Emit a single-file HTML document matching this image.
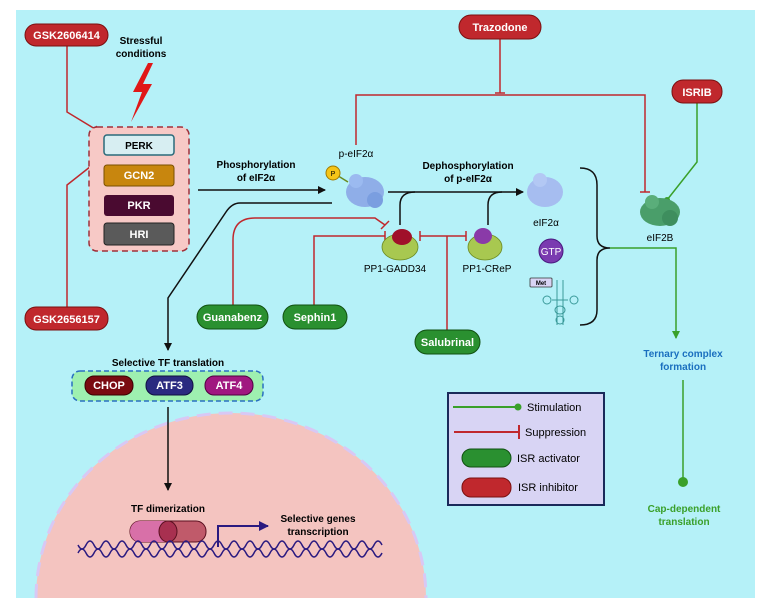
<!DOCTYPE html>
<html><head><meta charset="utf-8"><style>
html,body{margin:0;padding:0;background:#fff}
svg{display:block}
text{font-family:"Liberation Sans",sans-serif}
.b{font-weight:bold}
.w{fill:#fff;font-weight:bold;font-size:11px}
</style></head><body>
<svg width="760" height="603" viewBox="0 0 760 603" xmlns="http://www.w3.org/2000/svg">
<defs>
<marker id="ak" markerWidth="8" markerHeight="8" refX="7" refY="4" orient="auto" markerUnits="userSpaceOnUse"><path d="M0,0 L8,4 L0,8 z" fill="#111"/></marker>
<marker id="ag" markerWidth="8" markerHeight="8" refX="7" refY="4" orient="auto" markerUnits="userSpaceOnUse"><path d="M0,0 L8,4 L0,8 z" fill="#3aa02a"/></marker>
<marker id="an" markerWidth="10" markerHeight="10" refX="9" refY="5" orient="auto" markerUnits="userSpaceOnUse"><path d="M0,0 L10,5 L0,10 z" fill="#2a1a80"/></marker>
</defs>
<rect x="16" y="10" width="739" height="588" fill="#b5f1f8"/>
<!-- nucleus -->
<path d="M36,598 A195,185 0 0 1 426,598 Z" fill="#f4c4c0"/>
<path d="M36,598 A195,185 0 0 1 426,598" fill="none" stroke="#d8c8f4" stroke-width="3" stroke-dasharray="14,8"/>

<!-- suppression lines -->
<g stroke="#c0282d" stroke-width="1.5" fill="none">
<path d="M67,46 V112 L100,132"/><path d="M96,126 L102,136"/>
<path d="M67,307 V185 L100,159"/><path d="M96,155 L103,164"/>
<path d="M500,39 V93"/><path d="M495,93 H505"/>
<path d="M356,145 V95 H645 V192"/><path d="M640,192 H650"/>
<path d="M233,305 V240 Q233,218 255,218 H375 L385,225"/><path d="M381,229 L389,221"/>
<path d="M314,305 V236 H385"/><path d="M385,231 V241"/>
<path d="M447,330 V236"/><path d="M420,236 H466"/><path d="M420,231 V241"/><path d="M466,231 V241"/>
</g>
<!-- green lines -->
<g stroke="#3aa02a" stroke-width="1.5" fill="none">
<path d="M697,103 V162 L667,200"/>
<path d="M610,248 H676 V338" marker-end="url(#ag)"/>
<path d="M683,380 V480"/>
</g>
<circle cx="667" cy="200" r="3" fill="#3aa02a"/>
<circle cx="683" cy="482" r="5" fill="#3aa02a"/>

<!-- black arrows -->
<g stroke="#111" stroke-width="1.5" fill="none">
<path d="M198,190 H325" marker-end="url(#ak)"/>
<path d="M388,192 H523" marker-end="url(#ak)"/>
<path d="M400,225 V205 Q400,192 415,192"/>
<path d="M488,225 V205 Q488,192 502,192"/>
<path d="M332,203 H240 Q232,203 226,212 L168,298 V350" marker-end="url(#ak)"/>
<path d="M168,407 V490" marker-end="url(#ak)"/>
<path d="M580,168 Q597,168 597,185 V236 Q597,248 610,248 Q597,248 597,260 V310 Q597,325 580,325"/>
</g>

<!-- pills -->
<rect x="25" y="24" width="83" height="22" rx="11" fill="#c0282d" stroke="#7a1010"/><text x="66.5" y="39" text-anchor="middle" class="w">GSK2606414</text>
<rect x="25" y="307" width="83" height="23" rx="11" fill="#c0282d" stroke="#7a1010"/><text x="66.5" y="323" text-anchor="middle" class="w">GSK2656157</text>
<rect x="459" y="15" width="82" height="24" rx="12" fill="#c0282d" stroke="#7a1010"/><text x="500" y="31" text-anchor="middle" class="w">Trazodone</text>
<rect x="672" y="80" width="50" height="23" rx="11" fill="#c0282d" stroke="#7a1010"/><text x="697" y="96" text-anchor="middle" class="w">ISRIB</text>
<rect x="197" y="305" width="71" height="24" rx="12" fill="#2a9030" stroke="#105010"/><text x="232.5" y="321" text-anchor="middle" class="w">Guanabenz</text>
<rect x="283" y="305" width="64" height="24" rx="12" fill="#2a9030" stroke="#105010"/><text x="315" y="321" text-anchor="middle" class="w">Sephin1</text>
<rect x="415" y="330" width="65" height="24" rx="12" fill="#2a9030" stroke="#105010"/><text x="447.5" y="346" text-anchor="middle" class="w">Salubrinal</text>

<!-- stress -->
<text x="141" y="44" text-anchor="middle" class="b" font-size="10">Stressful</text>
<text x="141" y="57" text-anchor="middle" class="b" font-size="10">conditions</text>
<path d="M148,63 L133,92 L142,92 L131,122 L152,84 L143,84 L153,63 Z" fill="#e01818"/>

<!-- kinase box -->
<rect x="89" y="127" width="100" height="124" rx="8" fill="#f7c9c6" stroke="#a0303a" stroke-width="1.5" stroke-dasharray="6,4"/>
<rect x="104" y="135" width="70" height="20" rx="3" fill="#d7eef2" stroke="#2a6a7a" stroke-width="1.5"/><text x="139" y="149" text-anchor="middle" class="b" font-size="10">PERK</text>
<rect x="104" y="165" width="70" height="21" rx="3" fill="#c8860e" stroke="#7a5000"/><text x="139" y="179" text-anchor="middle" class="w" font-size="10">GCN2</text>
<rect x="104" y="195" width="70" height="21" rx="3" fill="#4a0a30"/><text x="139" y="209" text-anchor="middle" class="w" font-size="10">PKR</text>
<rect x="104" y="223" width="70" height="22" rx="3" fill="#5a5a5a" stroke="#222"/><text x="139" y="238" text-anchor="middle" class="w" font-size="10">HRI</text>

<text x="256" y="168" text-anchor="middle" class="b" font-size="10">Phosphorylation</text>
<text x="256" y="181" text-anchor="middle" class="b" font-size="10">of eIF2α</text>
<text x="468" y="169" text-anchor="middle" class="b" font-size="10">Dephosphorylation</text>
<text x="468" y="182" text-anchor="middle" class="b" font-size="10">of p-eIF2α</text>

<!-- p-eIF2a -->
<text x="356" y="157" text-anchor="middle" font-size="10">p-eIF2α</text>
<line x1="335" y1="174" x2="348" y2="182" stroke="#6a8a20" stroke-width="1.5"/>
<circle cx="333" cy="173" r="7" fill="#f5c518" stroke="#a07a00"/><text x="333" y="176" text-anchor="middle" font-size="7">P</text>
<ellipse cx="365" cy="192" rx="19" ry="15" fill="#8faee8"/><circle cx="356" cy="181" r="7" fill="#9bbaf0"/><circle cx="375" cy="200" r="8" fill="#7a9ee0"/>

<!-- eIF2a -->
<ellipse cx="545" cy="192" rx="18" ry="15" fill="#a6bdf0"/><circle cx="540" cy="180" r="7" fill="#b3c8f4"/>
<text x="546" y="226" text-anchor="middle" font-size="10">eIF2α</text>
<circle cx="551" cy="251" r="12" fill="#7a3bb0" stroke="#4a1a80"/><text x="551" y="255" text-anchor="middle" font-size="10" fill="#fff">GTP</text>
<rect x="530" y="278" width="22" height="9" rx="1" fill="#d8d4f4" stroke="#333" stroke-width="0.8"/><text x="541" y="285" text-anchor="middle" font-size="6" class="b">Met</text>
<g stroke="#3a9a9a" fill="none" stroke-width="1"><path d="M557,280 V325"/><path d="M563,280 V325"/><ellipse cx="560" cy="310" rx="5" ry="4"/><ellipse cx="560" cy="320" rx="4" ry="4"/><path d="M552,300 H568"/><circle cx="574" cy="300" r="4"/><circle cx="547" cy="300" r="4"/></g>

<!-- eIF2B -->
<ellipse cx="660" cy="212" rx="20" ry="14" fill="#4a9e6a"/><circle cx="652" cy="202" r="7" fill="#5aae7a"/><circle cx="670" cy="218" r="8" fill="#3e8e5e"/>
<text x="660" y="241" text-anchor="middle" font-size="10">eIF2B</text>

<!-- PP1 -->
<ellipse cx="400" cy="247" rx="18" ry="13" fill="#a8c850" stroke="#6a8a20" stroke-width="0.8"/><ellipse cx="402" cy="237" rx="10" ry="8" fill="#a0102a"/>
<text x="395" y="272" text-anchor="middle" font-size="10">PP1-GADD34</text>
<ellipse cx="485" cy="247" rx="17" ry="13" fill="#a8c850" stroke="#6a8a20" stroke-width="0.8"/><ellipse cx="483" cy="236" rx="9" ry="8" fill="#8a3aa8"/>
<text x="487" y="272" text-anchor="middle" font-size="10">PP1-CReP</text>

<!-- ternary -->
<text x="683" y="357" text-anchor="middle" class="b" font-size="10" fill="#1a6fbf">Ternary complex</text>
<text x="683" y="370" text-anchor="middle" class="b" font-size="10" fill="#1a6fbf">formation</text>
<text x="684" y="512" text-anchor="middle" class="b" font-size="10" fill="#3aa02a">Cap-dependent</text>
<text x="684" y="525" text-anchor="middle" class="b" font-size="10" fill="#3aa02a">translation</text>

<!-- legend -->
<rect x="448" y="393" width="156" height="112" fill="#d8d4f4" stroke="#1a2a5a" stroke-width="2"/>
<line x1="453" y1="407" x2="518" y2="407" stroke="#3aa02a" stroke-width="2"/><circle cx="518" cy="407" r="3.5" fill="#3aa02a"/>
<text x="527" y="411" font-size="11">Stimulation</text>
<line x1="454" y1="432" x2="519" y2="432" stroke="#c0282d" stroke-width="2"/><line x1="519" y1="425" x2="519" y2="439" stroke="#c0282d" stroke-width="2"/>
<text x="525" y="436" font-size="11">Suppression</text>
<rect x="462" y="449" width="49" height="18" rx="9" fill="#2a9030" stroke="#105010"/>
<text x="517" y="462" font-size="11">ISR activator</text>
<rect x="462" y="478" width="49" height="19" rx="9" fill="#c0282d" stroke="#7a1010"/>
<text x="518" y="491" font-size="11">ISR inhibitor</text>

<!-- TF box -->
<text x="168" y="366" text-anchor="middle" class="b" font-size="10">Selective TF translation</text>
<rect x="72" y="371" width="191" height="30" rx="8" fill="#9ef0b0" stroke="#2a70c0" stroke-width="1.5" stroke-dasharray="5,3"/>
<rect x="85" y="376" width="48" height="19" rx="9" fill="#7a0a10" stroke="#3a0000"/><text x="109" y="389" text-anchor="middle" class="w" font-size="10">CHOP</text>
<rect x="146" y="376" width="47" height="19" rx="9" fill="#2a2a80" stroke="#101040"/><text x="169.5" y="389" text-anchor="middle" class="w" font-size="10">ATF3</text>
<rect x="205" y="376" width="48" height="19" rx="9" fill="#a01880" stroke="#500040"/><text x="229" y="389" text-anchor="middle" class="w" font-size="10">ATF4</text>

<!-- nucleus contents -->
<text x="168" y="512" text-anchor="middle" class="b" font-size="10">TF dimerization</text>
<rect x="130" y="521" width="76" height="21" rx="10" fill="#c05a6a" stroke="#5a1020"/>
<path d="M140,521 H168 V542 H140 A10,10.5 0 0 1 140,521 Z" fill="#d870a8"/>
<ellipse cx="168" cy="531.5" rx="9" ry="10.5" fill="#a83050" stroke="#5a1020"/>
<path d="M218,547 V526 H268" fill="none" stroke="#2a1a80" stroke-width="2" marker-end="url(#an)"/>
<text x="318" y="522" text-anchor="middle" class="b" font-size="10">Selective genes</text>
<text x="318" y="535" text-anchor="middle" class="b" font-size="10">transcription</text>
<path d="M78,545 q4,8 8,0 t8,0 t8,0 t8,0 t8,0 t8,0 t8,0 t8,0 t8,0 t8,0 t8,0 t8,0 t8,0 t8,0 t8,0 t8,0 t8,0 t8,0 t8,0 t8,0 t8,0 t8,0 t8,0 t8,0 t8,0 t8,0 t8,0 t8,0 t8,0 t8,0 t8,0 t8,0 t8,0 t8,0 t8,0 t8,0 t8,0 t8,0" fill="none" stroke="#2a1a80" stroke-width="1.5"/>
<path d="M78,553 q4,-8 8,0 t8,0 t8,0 t8,0 t8,0 t8,0 t8,0 t8,0 t8,0 t8,0 t8,0 t8,0 t8,0 t8,0 t8,0 t8,0 t8,0 t8,0 t8,0 t8,0 t8,0 t8,0 t8,0 t8,0 t8,0 t8,0 t8,0 t8,0 t8,0 t8,0 t8,0 t8,0 t8,0 t8,0 t8,0 t8,0 t8,0 t8,0" fill="none" stroke="#2a1a80" stroke-width="1.5"/>
</svg>
</body></html>
